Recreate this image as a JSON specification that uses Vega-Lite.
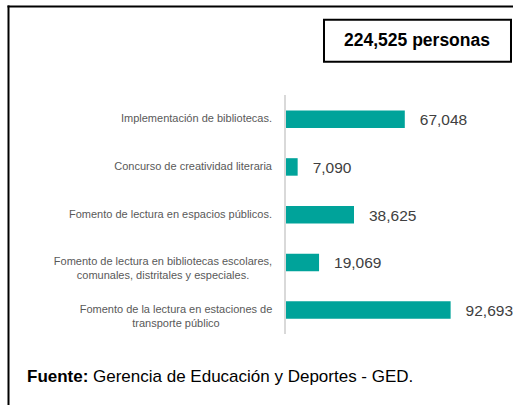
{
  "$schema": "https://vega.github.io/schema/vega-lite/v6.json",
  "width": 505,
  "height": 399,
  "autosize": "none",
  "padding": {"left": 8, "top": 6, "right": 0, "bottom": 0},
  "background": "white",
  "config": {"view": {"stroke": null}, "font": "Liberation Sans"},
  "datasets": {
    "bars": [
      {"idx": 1, "cat": "Implementación de bibliotecas.", "value": 67048},
      {"idx": 2, "cat": "Concurso de creatividad literaria", "value": 7090},
      {"idx": 3, "cat": "Fomento de lectura en espacios públicos.", "value": 38625},
      {"idx": 4, "cat": "Fomento de lectura en bibliotecas escolares,\ncomunales, distritales y especiales.", "value": 19069},
      {"idx": 5, "cat": "Fomento de la lectura en estaciones de\ntransporte público", "value": 92693}
    ],
    "total": [{"t": "224,525 personas"}],
    "source": [{"b": "Fuente:", "r": "Gerencia de Educación y Deportes - GED."}]
  },
  "layer": [
    {
      "data": {"name": "bars"},
      "mark": {"type": "bar", "orient": "horizontal", "size": 17.5, "color": "#00a39a"},
      "encoding": {
        "x": {"field": "value", "type": "quantitative",
              "scale": {"domain": [-155000, 127600], "nice": false, "zero": false},
              "axis": {"orient": "top", "labels": false, "ticks": false, "grid": false, "title": null, "domainColor": "black", "domainWidth": 2, "domainCap": "square"}},
        "x2": {"datum": 0},
        "y": {"field": "idx", "type": "quantitative",
              "scale": {"domain": [-1.2676, 6.8836], "reverse": true, "nice": false, "zero": false},
              "axis": {"orient": "left", "labels": false, "ticks": false, "grid": false, "title": null, "domainColor": "black", "domainWidth": 2, "domainCap": "square"}}
      }
    },
    {
      "data": {"name": "bars"},
      "mark": {"type": "rule", "color": "#d9d9d9", "strokeWidth": 2},
      "encoding": {
        "x": {"datum": 0, "type": "quantitative"},
        "y": {"datum": 0.5, "type": "quantitative"},
        "y2": {"datum": 5.5}
      }
    },
    {
      "data": {"name": "bars"},
      "mark": {"type": "text", "align": "left", "baseline": "middle", "dx": 15, "dy": 1, "fontSize": 15.5, "color": "#404040"},
      "encoding": {
        "x": {"field": "value", "type": "quantitative"},
        "y": {"field": "idx", "type": "quantitative"},
        "text": {"field": "value", "type": "quantitative", "format": ","}
      }
    },
    {
      "data": {"name": "bars"},
      "transform": [{"filter": "datum.idx <= 3"}],
      "mark": {"type": "text", "align": "right", "baseline": "middle", "dx": -13, "fontSize": 11, "color": "#595959"},
      "encoding": {
        "x": {"datum": 0, "type": "quantitative"},
        "y": {"field": "idx", "type": "quantitative"},
        "text": {"field": "cat"}
      }
    },
    {
      "data": {"name": "bars"},
      "transform": [{"filter": "datum.idx == 4"}],
      "mark": {"type": "text", "align": "center", "baseline": "middle", "dx": -122, "fontSize": 11, "lineHeight": 14, "lineBreak": "\n", "color": "#595959"},
      "encoding": {
        "x": {"datum": 0, "type": "quantitative"},
        "y": {"field": "idx", "type": "quantitative"},
        "text": {"field": "cat"}
      }
    },
    {
      "data": {"name": "bars"},
      "transform": [{"filter": "datum.idx == 5"}],
      "mark": {"type": "text", "align": "center", "baseline": "middle", "dx": -109, "fontSize": 11, "lineHeight": 14, "lineBreak": "\n", "color": "#595959"},
      "encoding": {
        "x": {"datum": 0, "type": "quantitative"},
        "y": {"field": "idx", "type": "quantitative"},
        "text": {"field": "cat"}
      }
    },
    {
      "data": {"name": "total"},
      "mark": {"type": "rect", "fill": "white", "stroke": "black", "strokeWidth": 2},
      "encoding": {
        "x": {"datum": 21834, "type": "quantitative"},
        "x2": {"datum": 126479},
        "y": {"datum": -1.0837, "type": "quantitative"},
        "y2": {"datum": -0.2053}
      }
    },
    {
      "data": {"name": "total"},
      "mark": {"type": "text", "align": "center", "baseline": "middle", "fontSize": 17.5, "fontWeight": "bold", "color": "black"},
      "encoding": {
        "x": {"datum": 73876, "type": "quantitative"},
        "y": {"datum": -0.6445, "type": "quantitative"},
        "text": {"field": "t"}
      }
    },
    {
      "data": {"name": "source"},
      "mark": {"type": "text", "align": "left", "baseline": "middle", "fontSize": 17, "fontWeight": "bold", "color": "black"},
      "encoding": {
        "x": {"datum": -144368, "type": "quantitative"},
        "y": {"datum": 6.393, "type": "quantitative"},
        "text": {"field": "b"}
      }
    },
    {
      "data": {"name": "source"},
      "mark": {"type": "text", "align": "left", "baseline": "middle", "fontSize": 17, "color": "black"},
      "encoding": {
        "x": {"datum": -107434, "type": "quantitative"},
        "y": {"datum": 6.393, "type": "quantitative"},
        "text": {"field": "r"}
      }
    }
  ]
}
